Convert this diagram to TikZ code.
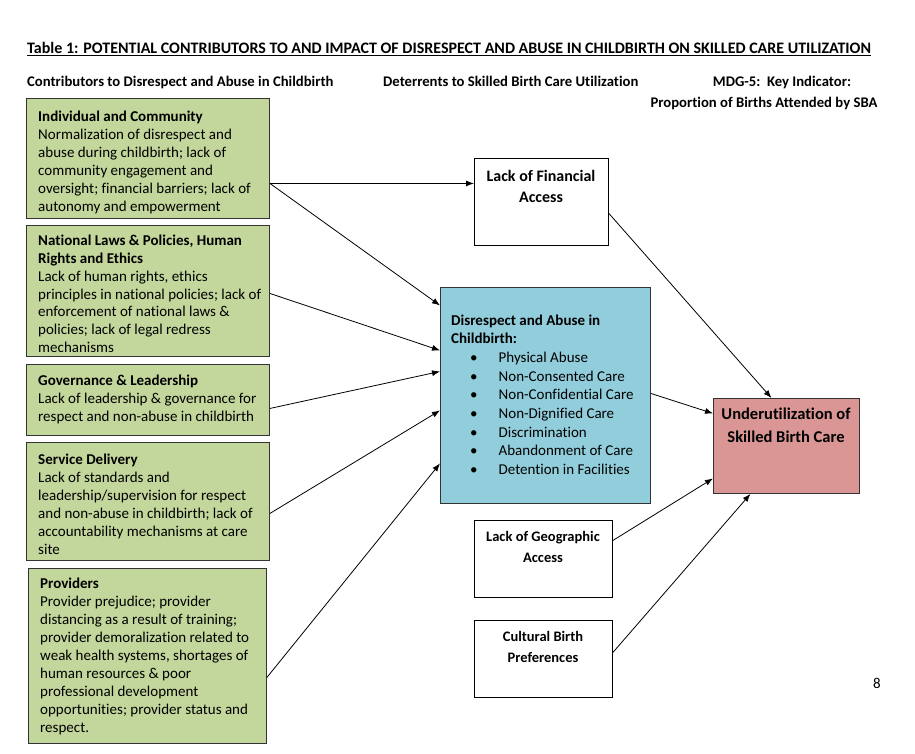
\documentclass[tikz,border=0pt]{standalone}
\usepackage{fontspec}
\setmainfont{Carlito}[Ligatures=NoCommon]
\usetikzlibrary{arrows.meta}
\definecolor{gfill}{HTML}{C3D69B}
\definecolor{bfill}{HTML}{92CDDC}
\definecolor{rfill}{HTML}{D99694}
\begin{document}
\begin{tikzpicture}[x=1pt,y=-1pt,
  gbox/.style={draw=black!80, fill=gfill, line width=0.9pt, anchor=north west, inner sep=0},
  bbox/.style={draw=black!80, fill=bfill, line width=0.9pt, anchor=north west, inner sep=0},
  rbox/.style={draw=black!80, fill=rfill, line width=0.9pt, anchor=north west, inner sep=0},
  wbox/.style={draw=black, fill=white, line width=0.9pt, anchor=north west, inner sep=0},
  body/.style={anchor=north west, inner sep=0, align=left, font=\fontsize{15}{18}\selectfont},
  ctitle/.style={anchor=north, inner sep=0, align=center, font=\bfseries\fontsize{16}{21}\selectfont},
  hdr/.style={anchor=base west, inner sep=0, font=\bfseries\fontsize{14.7}{17}\selectfont},
  conn/.style={-{Latex[length=8pt,width=6pt]}, line width=0.8pt}]
\useasboundingbox (0,0) rectangle (915,754);
\fill[white] (0,0) rectangle (915,754);

% headings
\node[hdr, font=\bfseries\fontsize{16}{18}\selectfont] (title) at (27,54) {\underline{Table 1: POTENTIAL CONTRIBUTORS TO AND IMPACT OF DISRESPECT AND ABUSE IN CHILDBIRTH ON SKILLED CARE UTILIZATION}};
\node[hdr] (h1) at (27,87) {Contributors to Disrespect and Abuse in Childbirth};
\node[hdr] (h2) at (383,87) {Deterrents to Skilled Birth Care Utilization};
\node[hdr, anchor=base] (h3) at (782,87) {MDG-5:\ \ Key Indicator:};
\node[hdr, anchor=base] (h4) at (764,108) {Proportion of Births Attended by SBA};

% green boxes
\node[gbox, minimum width=243pt, minimum height=120pt] (ind) at (26,98) {};
\node[body] (indT) at (38,111) {\textbf{Individual and Community}\\Normalization of disrespect and\\abuse during childbirth; lack of\\community engagement and\\oversight; financial barriers; lack of\\autonomy and empowerment};

\node[gbox, minimum width=243pt, minimum height=131pt] (nat) at (26,225) {};
\node[body, font=\fontsize{15}{17.8}\selectfont] (natT) at (38,235) {\textbf{National Laws \& Policies, Human}\\\textbf{Rights and Ethics}\\Lack of human rights, ethics\\principles in national policies; lack of\\enforcement of national laws \&\\policies; lack of legal redress\\mechanisms};

\node[gbox, minimum width=243pt, minimum height=71pt] (gov) at (26,364) {};
\node[body] (govT) at (38,375) {\textbf{Governance \& Leadership}\\Lack of leadership \& governance for\\respect and non-abuse in childbirth};

\node[gbox, minimum width=243pt, minimum height=118pt] (ser) at (26,442) {};
\node[body] (serT) at (38,454) {\textbf{Service Delivery}\\Lack of standards and\\leadership/supervision for respect\\and non-abuse in childbirth; lack of\\accountability mechanisms at care\\site};

\node[gbox, minimum width=238pt, minimum height=175pt] (pro) at (28,568) {};
\node[body] (proT) at (40,578) {\textbf{Providers}\\Provider prejudice; provider\\distancing as a result of training;\\provider demoralization related to\\weak health systems, shortages of\\human resources \& poor\\professional development\\opportunities; provider status and\\respect.};

% middle boxes
\node[wbox, minimum width=134pt, minimum height=87pt] (fin) at (474,158) {};
\node[ctitle] (finT) at (541,170) {Lack of Financial\\Access};

\node[bbox, minimum width=210pt, minimum height=216pt] (da) at (440,287) {};
\node[body, font=\bfseries\fontsize{15}{18}\selectfont] (daT) at (451,315) {Disrespect and Abuse in\\Childbirth:};
\node[body, font=\fontsize{15}{18.67}\selectfont] (daB) at (470,352) {\textbullet\hspace{21pt}Physical Abuse\\\textbullet\hspace{21pt}Non-Consented Care\\\textbullet\hspace{21pt}Non-Confidential Care\\\textbullet\hspace{21pt}Non-Dignified Care\\\textbullet\hspace{21pt}Discrimination\\\textbullet\hspace{21pt}Abandonment of Care\\\textbullet\hspace{21pt}Detention in Facilities};

\node[wbox, minimum width=138pt, minimum height=77pt] (geo) at (474,520) {};
\node[ctitle, font=\bfseries\fontsize{14.5}{21}\selectfont] (geoT) at (543,531) {Lack of Geographic\\Access};

\node[wbox, minimum width=138pt, minimum height=77pt] (cul) at (474,620) {};
\node[ctitle, font=\bfseries\fontsize{14.5}{21}\selectfont] (culT) at (543,631) {Cultural Birth\\Preferences};

\node[rbox, minimum width=146pt, minimum height=95pt] (und) at (713,398) {};
\node[ctitle, font=\bfseries\fontsize{16.5}{22.5}\selectfont] (undT) at (786,408) {Underutilization of\\Skilled Birth Care};

\node[anchor=base, inner sep=0, font=\fontsize{15}{18}\selectfont] (pg) at (877,688) {8};

% connectors
\draw[conn] ([yshift=-25pt]ind.east) -- ([yshift=18.5pt]fin.west);
\draw[conn] ([yshift=-25pt]ind.east) -- ([yshift=90pt]da.west);
\draw[conn] ([yshift=-2.5pt]nat.east) -- ([yshift=45pt]da.west);
\draw[conn] ([yshift=-8.5pt]gov.east) -- ([yshift=24pt]da.west);
\draw[conn] ([yshift=-12pt]ser.east) -- ([yshift=-15pt]da.west);
\draw[conn] ([yshift=-21.5pt]pro.east) -- ([yshift=-68pt]da.west);
\draw[conn] ([yshift=-11.5pt]fin.east) -- ([xshift=-15pt]und.north);
\draw[conn] ([yshift=2pt]da.east) -- ([yshift=32.5pt]und.west);
\draw[conn] ([yshift=18.5pt]geo.east) -- ([yshift=-32.5pt]und.west);
\draw[conn] ([yshift=6.5pt]cul.east) -- ([xshift=-36pt]und.south);
\end{tikzpicture}
\end{document}
